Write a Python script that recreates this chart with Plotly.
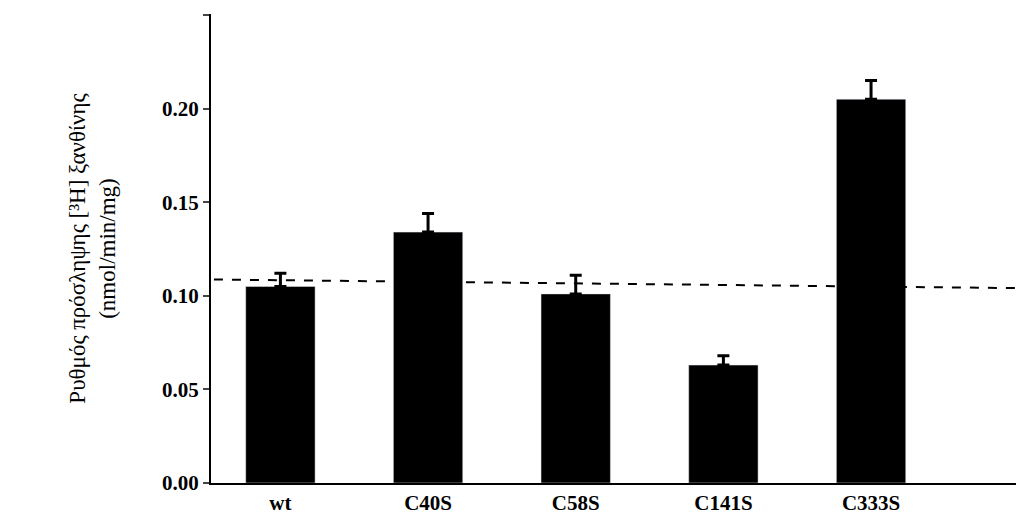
import plotly.graph_objects as go

categories = ["wt", "C40S", "C58S", "C141S", "C333S"]
values = [0.105, 0.134, 0.101, 0.063, 0.205]
errors = [0.007, 0.010, 0.010, 0.005, 0.010]
ref_line = [0.1087, 0.1040]
y_ticks = [0.00, 0.05, 0.10, 0.15, 0.20, 0.25]

font = dict(family="Liberation Serif", size=21, color="black")
fig = go.Figure()
fig.add_trace(go.Bar(
    x=list(range(len(categories))), y=values, width=0.47, marker_color="black",
    error_y=dict(type="data", symmetric=False, array=errors, arrayminus=[0]*5,
                 color="black", thickness=3, width=6),
))
fig.add_trace(go.Scatter(x=[-0.45, 5.09], y=ref_line, mode="lines",
                         line=dict(color="black", width=2, dash="dash")))
fig.update_layout(
    width=1024, height=528, showlegend=False, plot_bgcolor="white", paper_bgcolor="white",
    margin=dict(l=203, r=0, t=6, b=53), font=font,
    xaxis=dict(range=[-0.47, 5.09], tickvals=list(range(5)), ticktext=[f"<b>{c}</b>" for c in categories],
               showline=True, linecolor="black", linewidth=2, ticks="", showgrid=False,
               zeroline=False),
    yaxis=dict(range=[0, 0.2505], tickvals=y_ticks,
               ticktext=[f"<b>{v:.2f}</b>" for v in y_ticks], showline=True,
               linecolor="black", linewidth=2, ticks="outside", ticklen=6,
               tickwidth=2, showgrid=False, zeroline=False,
               title=dict(text="Ρυθμός πρόσληψης [³H] ξανθίνης<br>(nmol/min/mg)",
                          font=dict(family="Liberation Serif", size=23), standoff=40)),
)
fig.write_html("out.html")
